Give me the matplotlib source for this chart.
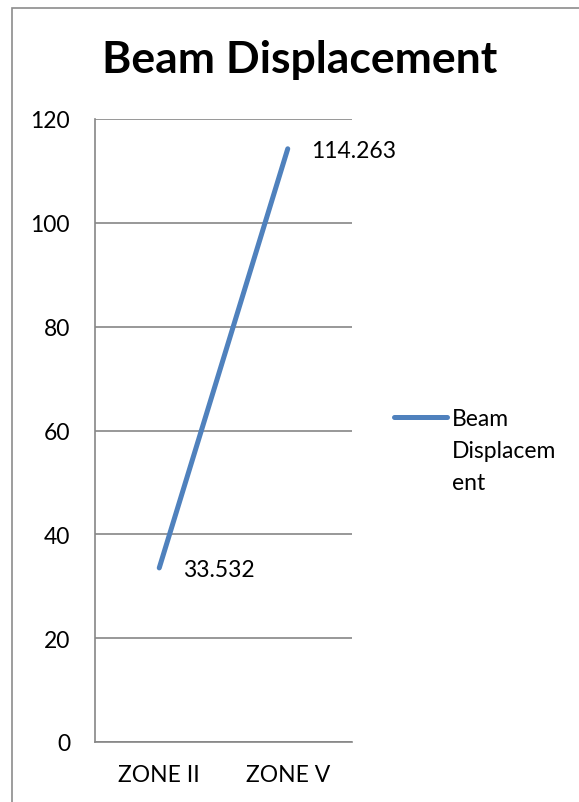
import matplotlib

matplotlib.use("Agg")
import matplotlib.pyplot as plt
from matplotlib.lines import Line2D
from matplotlib.patches import Rectangle


CATEGORIES = ["ZONE II", "ZONE V"]
DISPLACEMENT = [33.532, 114.263]
SERIES_NAME = "Beam Displacement"
LEGEND_LABEL = "Beam\nDisplacem\nent"
Y_TICKS = [0, 20, 40, 60, 80, 100, 120]

LINE_COLOR = "#4f81bd"
GRID_COLOR = "#868686"
W, H = 579, 803
FS = 16.5

plt.rcParams["font.family"] = ["Lato", "DejaVu Sans"]


def fx(px):
    return px / W


def fy(py):
    return 1 - py / H


fig = plt.figure(figsize=(W / 100, H / 100), dpi=100)
ax = fig.add_axes([fx(95), fy(743), fx(352) - fx(95), fy(120) - fy(743)])

x = list(range(len(CATEGORIES)))
ax.plot(x, DISPLACEMENT, color=LINE_COLOR, linewidth=3.6, solid_capstyle="round")

for xi, val in zip(x, DISPLACEMENT):
    ax.annotate(f"{val:g}", (xi, val), xytext=(17, -1.5), textcoords="offset points",
                ha="left", va="center", fontsize=FS)

ax.set_xlim(-0.5, len(CATEGORIES) - 0.5)
ax.set_ylim(0, 120)
ax.set_yticks(Y_TICKS)
ax.set_xticks(x)
ax.set_xticklabels(CATEGORIES)
ax.tick_params(axis="both", length=0, labelsize=FS)
ax.tick_params(axis="y", pad=18)
ax.tick_params(axis="x", pad=16)
ax.yaxis.grid(True, color=GRID_COLOR, linewidth=1.2)
ax.set_axisbelow(True)
for side in ["top", "right"]:
    ax.spines[side].set_visible(False)
for side in ["left", "bottom"]:
    ax.spines[side].set_color(GRID_COLOR)
    ax.spines[side].set_linewidth(1.2)

fig.text(fx(300), fy(60), SERIES_NAME, ha="center", va="center",
         fontsize=32, fontweight="bold")

# legend drawn by hand so the key lines up with the first text line
fig.add_artist(Line2D([fx(394), fx(447)], [fy(418), fy(418)], color=LINE_COLOR,
                      linewidth=3.6, solid_capstyle="round"))
fig.text(fx(452), fy(409), LEGEND_LABEL, ha="left", va="top", fontsize=FS,
         linespacing=1.65)

fig.add_artist(Rectangle((fx(11.5), -0.1), 1.2, fy(8.5) + 0.1, transform=fig.transFigure,
                         fill=False, edgecolor="#8c8c8c", linewidth=1.2))

fig.savefig("out.png", dpi=100)
